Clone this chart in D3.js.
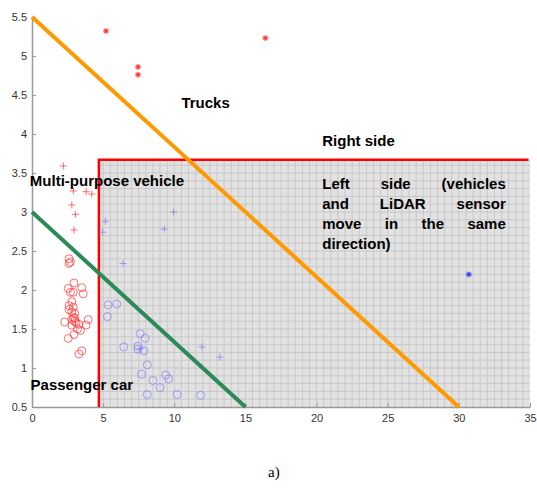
<!DOCTYPE html>
<html><head><meta charset="utf-8">
<script src="https://cdn.jsdelivr.net/npm/d3@7"></script>
<style>body{margin:0;background:#fff}svg{display:block}</style>
</head><body>
<script>
const xTicks = [0,5,10,15,20,25,30,35];
const yTicks = [0.5,1,1.5,2,2.5,3,3.5,4,4.5,5,5.5];
const truckStarsRed = [[5.2,5.32],[7.45,4.86],[7.45,4.76],[16.4,5.23]];
const truckStarsBlue = [[30.7,2.2]];
const mpvPlusRed = [[2.2,3.59],[2.9,3.27],[3.8,3.26],[4.2,3.23],[2.8,3.09],[3.05,2.97],[2.95,2.77]];
const mpvPlusBlue = [[5.15,2.88],[4.95,2.74],[9.95,3.0],[9.3,2.78],[6.4,2.34],[11.95,1.27],[13.2,1.14],[7.6,1.25]];
const carCircRed = [[2.6,2.40],[2.7,2.36],[2.6,2.34],[2.95,2.09],[2.55,2.02],[3.5,2.03],[3.6,1.95],[2.7,1.97],[2.9,1.97],
  [2.8,1.85],[2.6,1.80],[2.9,1.78],[2.6,1.75],[2.8,1.72],[3.0,1.70],[2.9,1.65],[2.8,1.62],[3.0,1.60],[3.1,1.58],
  [2.3,1.59],[2.8,1.55],[3.3,1.56],[3.95,1.62],[3.8,1.55],[3.2,1.50],[2.95,1.43],[2.55,1.38],[3.4,1.48],[3.0,1.64],
  [3.5,1.22],[3.3,1.18]];
const carCircBlue = [[5.35,1.81],[5.95,1.82],[5.3,1.66],[6.45,1.27],[7.6,1.44],[7.95,1.38],[7.45,1.28],[7.45,1.24],
  [7.85,1.22],[8.1,1.04],[7.7,0.92],[8.5,0.84],[9.0,0.75],[9.4,0.91],[9.6,0.86],[8.1,0.66],[10.2,0.66],[11.85,0.65]];
const orangeLine = [[0,5.5],[30,0.5]];
const greenLine = [[0,3],[15,0.5]];
const leftRegion = {x0:4.7, x1:35, y0:0.5, y1:3.67};
const labels = [
  {t:"Trucks", x:10.5, y:4.33},
  {t:"Right side", x:20.4, y:3.85},
  {t:"Multi-purpose vehicle", x:-0.15, y:3.33},
  {t:"Passenger car", x:-0.1, y:0.72}
];
const leftLines = [["Left","side","(vehicles"],["and","LiDAR","sensor"],["move","in","the","same"],["direction)"]];

const W=537,H=491;
const svg=d3.select("body").append("svg").attr("width",W).attr("height",H);
const x=d3.scaleLinear().domain([0,35]).range([32,530]);
const y=d3.scaleLinear().domain([0.5,5.5]).range([407,17]);

// shaded region
const g=svg.append("g");
g.append("rect").attr("x",x(leftRegion.x0)).attr("y",y(leftRegion.y1))
 .attr("width",x(leftRegion.x1)-x(leftRegion.x0)).attr("height",y(leftRegion.y0)-y(leftRegion.y1))
 .attr("fill","#e2e2e2");
const gx=d3.range(leftRegion.x0+0.3,leftRegion.x1,0.5);
g.selectAll(".gv").data(gx).join("line").attr("x1",d=>x(d)).attr("x2",d=>x(d))
 .attr("y1",y(leftRegion.y1)).attr("y2",y(leftRegion.y0)).attr("stroke","#c8c8c8").attr("stroke-width",1);
const gy=d3.range(0.6,leftRegion.y1,0.1);
g.selectAll(".gh").data(gy).join("line").attr("y1",d=>y(d)).attr("y2",d=>y(d))
 .attr("x1",x(leftRegion.x0)).attr("x2",x(leftRegion.x1)).attr("stroke","#c8c8c8").attr("stroke-width",1);

// axes
const ax=svg.append("g").attr("transform",`translate(0,${y(0.5)})`)
 .call(d3.axisBottom(x).tickValues(xTicks).tickSizeInner(-4).tickSizeOuter(0).tickPadding(7));
const ay=svg.append("g").attr("transform",`translate(${x(0)},0)`)
 .call(d3.axisLeft(y).tickValues(yTicks).tickFormat(d3.format("")).tickSizeInner(-4).tickSizeOuter(0).tickPadding(5));
[ax,ay].forEach(a=>{a.select(".domain").attr("stroke","#999").attr("stroke-width",1.5);
 a.selectAll(".tick line").attr("stroke","#999");
 a.selectAll("text").attr("fill","#333").attr("font-family","Liberation Sans, Arial").attr("font-size",11);});

// red boundary
const line=d3.line().x(d=>x(d[0])).y(d=>y(d[1]));
svg.append("path").attr("d",line([[leftRegion.x0,leftRegion.y0],[leftRegion.x0,leftRegion.y1],[leftRegion.x1-0.1,leftRegion.y1]]))
 .attr("fill","none").attr("stroke","#ff0000").attr("stroke-width",2.5);

// markers
const red="rgba(255,60,60,0.75)", blue="rgba(110,110,255,0.6)";
svg.selectAll(".cr").data(carCircRed).join("circle").attr("cx",d=>x(d[0])).attr("cy",d=>y(d[1])).attr("r",4)
 .attr("fill","none").attr("stroke",red).attr("stroke-width",1);
svg.selectAll(".cb").data(carCircBlue).join("circle").attr("cx",d=>x(d[0])).attr("cy",d=>y(d[1])).attr("r",4)
 .attr("fill","none").attr("stroke",blue).attr("stroke-width",1);
function drawPlus(data,col){
 svg.selectAll(null).data(data).join("path")
  .attr("d",d=>`M${x(d[0])-3.5},${y(d[1])}h7M${x(d[0])},${y(d[1])-3.5}v7`)
  .attr("stroke",col).attr("stroke-width",1).attr("fill","none");
}
drawPlus(mpvPlusRed,red); drawPlus(mpvPlusBlue,blue);
function drawStar(data,col){
 const s=svg.selectAll(null).data(data).join("g").attr("transform",d=>`translate(${x(d[0])},${y(d[1])})`);
 s.append("circle").attr("r",3).attr("fill",col).attr("opacity",0.3);
 s.append("path").attr("d","M-2.5,0h5M0,-2.5v5M-1.8,-1.8l3.6,3.6M-1.8,1.8l3.6,-3.6").attr("stroke",col).attr("stroke-width",0.9);
}
drawStar(truckStarsRed,"#ff2020"); drawStar(truckStarsBlue,"#3030ff");

// boundary lines
svg.append("path").attr("d",line(greenLine)).attr("stroke","#2b8a57").attr("stroke-width",4).attr("fill","none");
svg.append("path").attr("d",line(orangeLine)).attr("stroke","#ff9900").attr("stroke-width",4).attr("fill","none");

// labels
svg.selectAll(".lab").data(labels).join("text").attr("x",d=>x(d.x)).attr("y",d=>y(d.y))
 .attr("font-family","Liberation Sans, Arial").attr("font-weight","bold").attr("font-size",15).attr("fill","#000").text(d=>d.t);

// justified paragraph
const px0=x(20.4), px1=x(33.3);
leftLines.forEach((words,i)=>{
 const yy=y(3.3)+i*20;
 const tmp=words.map(w=>svg.append("text").attr("font-family","Liberation Sans, Arial").attr("font-weight","bold")
   .attr("font-size",15).attr("y",yy).text(w));
 const widths=tmp.map(t=>t.node().getComputedTextLength());
 const total=d3.sum(widths);
 const last=i===leftLines.length-1;
 const gap=(last||words.length<2)?4.2:(px1-px0-total)/(words.length-1);
 let cx=px0;
 tmp.forEach((t,j)=>{t.attr("x",cx);cx+=widths[j]+gap;});
});

svg.append("text").attr("x",268).attr("y",477).attr("font-family","Liberation Serif, Times New Roman")
 .attr("font-size",15).attr("fill","#000").text("a)");
</script>
</body></html>
